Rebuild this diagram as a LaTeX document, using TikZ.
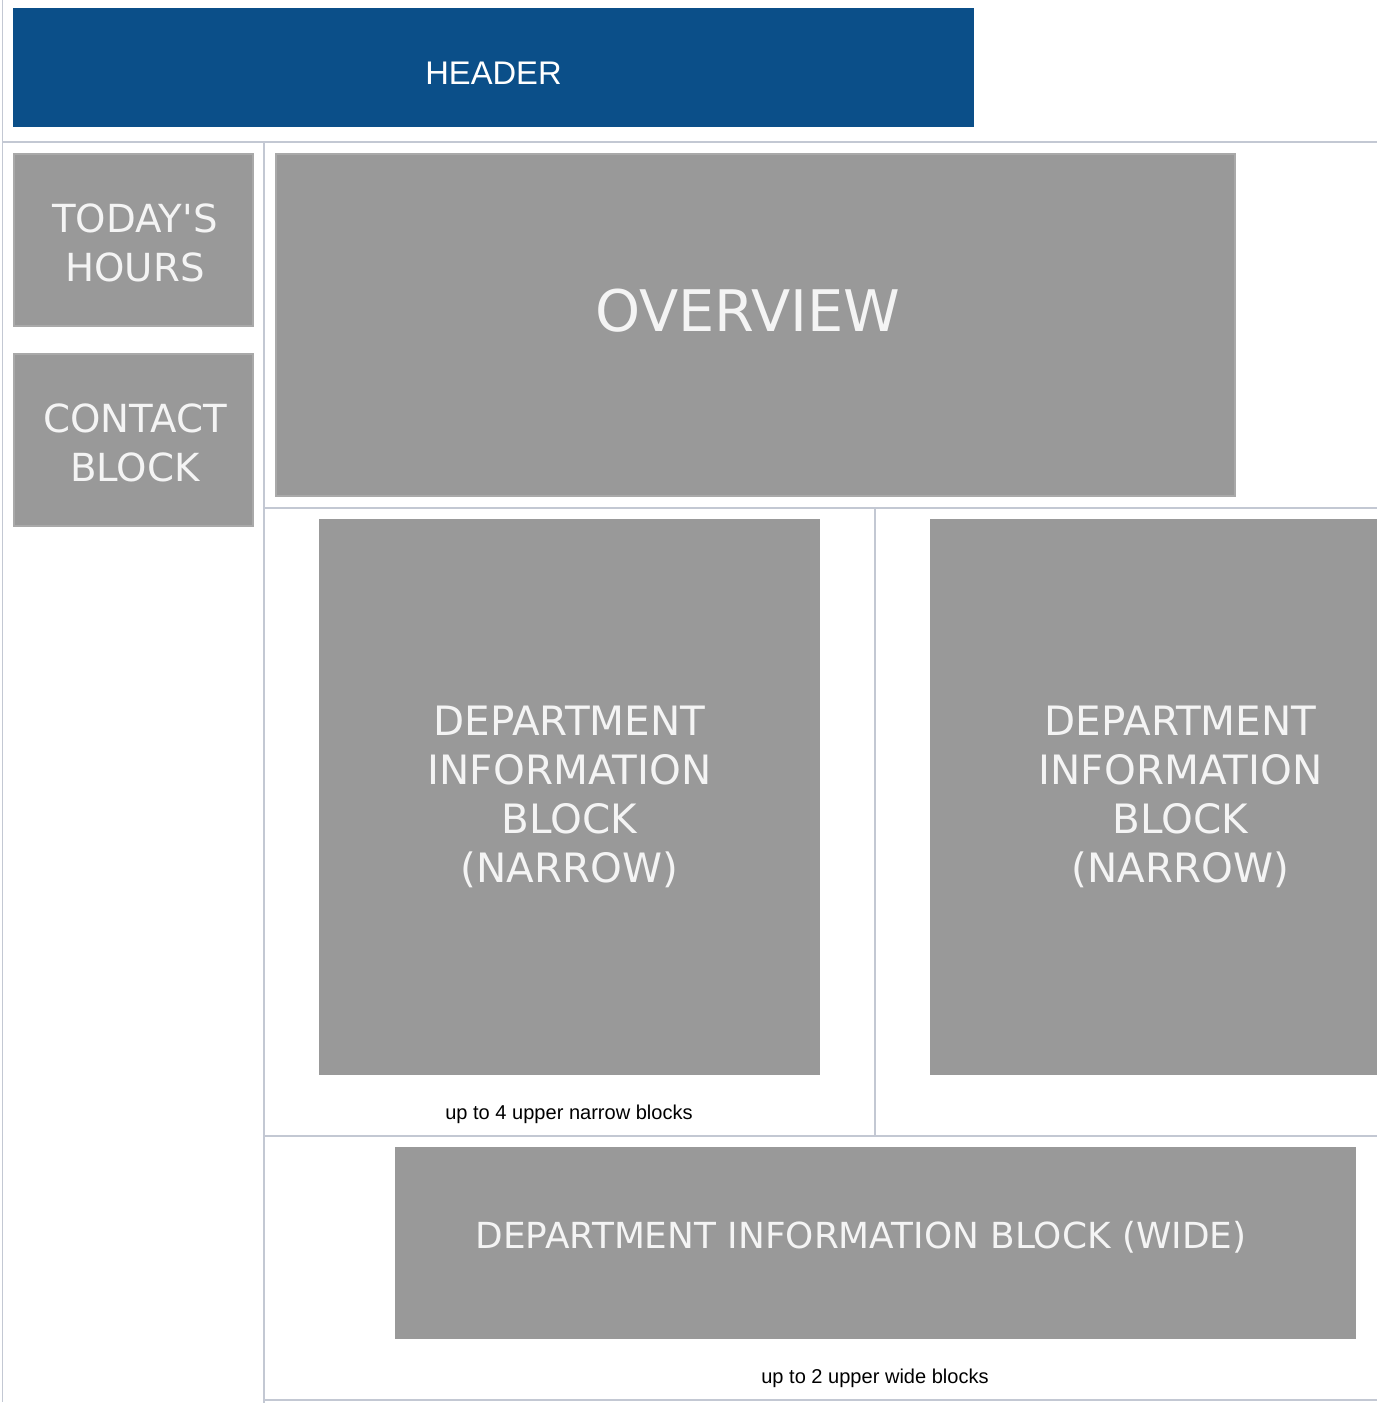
\documentclass[tikz,border=0pt]{standalone}
\usepackage{fontspec}
\usepackage{xcolor}
\usepackage{tikz}
\usetikzlibrary{positioning}
\newfontfamily\blockfont{DejaVu Sans}
\newfontfamily\notefont{Liberation Sans}
\definecolor{headblue}{HTML}{0B4F89}
\definecolor{blockgray}{HTML}{999999}
\definecolor{blockedge}{HTML}{A9A9A9}
\definecolor{rulegray}{HTML}{C3C8D3}
\definecolor{paletext}{HTML}{F4F4F4}
\tikzset{
    every picture/.style={line cap=butt,line join=miter},
    headbar/.style={fill=headblue,inner sep=0pt,minimum width=9.61cm,
      minimum height=1.19cm,text=white,text height=9.6pt,text depth=0pt,
      font=\notefont\fontsize{9.3}{11}\selectfont},
    sidebox/.style={fill=blockgray,draw=blockedge,line width=0.6pt,inner sep=0pt,
      minimum width=2.39cm,minimum height=1.72cm},
    sidetext/.style={text=paletext,inner sep=0pt,align=center,
      font=\blockfont\fontsize{11}{13.7}\selectfont},
    narrowbox/.style={fill=blockgray,inner sep=0pt,minimum width=5.01cm,
      minimum height=5.56cm,text=paletext,align=center,
      font=\blockfont\fontsize{11.5}{13.9}\selectfont},
    widebox/.style={fill=blockgray,inner sep=0pt,minimum width=9.61cm,
      minimum height=1.92cm},
    bigtext/.style={text=paletext,inner sep=0pt,font=\blockfont\fontsize{16.3}{20}\selectfont},
    widetext/.style={text=paletext,inner sep=0pt,font=\blockfont\fontsize{10.2}{12}\selectfont},
    notetext/.style={text=black,inner sep=0pt,font=\notefont\fontsize{5.7}{7}\selectfont},
    rule/.style={draw=rulegray,line width=0.6pt}
}
\begin{document}
\begin{tikzpicture}[x=0.01cm,y=-0.01cm]
  \useasboundingbox (0,0) rectangle (1377,1403);
  \clip (0,0) rectangle (1377,1403);

  % table rules
  \draw[rule,line width=0.35pt] (2.7,0) -- (2.7,1402);
  \draw[rule] (2.7,142.3) -- (1377,142.3);
  \draw[rule] (263.7,142.3) -- (263.7,1403);
  \draw[rule] (263.7,508) -- (1377,508);
  \draw[rule] (875,508) -- (875,1136);
  \draw[rule] (263.7,1136) -- (1377,1136);
  \draw[rule] (263.7,1400.3) -- (1377,1400.3);

  % header and left column
  \node[headbar] (header) at (493.5,67.5) {HEADER};
  \node[sidebox] (hours) at (133.5,240) {};
  \node[sidetext] (hourstext) at (135,243) {TODAY'S\\HOURS};
  \node[sidebox] (contact) at (133.5,440) {};
  \node[sidetext] (contacttext) at (135,443) {CONTACT\\BLOCK};

  % overview
  \node[sidebox,minimum width=9.59cm,minimum height=3.42cm] (overview) at (755.5,325) {};
  \node[bigtext] (overviewtext) at (748,311) {OVERVIEW};

  % narrow blocks
  \node[narrowbox] (narrowA) at (569.5,797) {DEPARTMENT\\INFORMATION\\BLOCK\\(NARROW)};
  \node[narrowbox] (narrowB) at (1180.5,797) {DEPARTMENT\\INFORMATION\\BLOCK\\(NARROW)};
  \node[notetext] (narrownote) at (569,1114) {up to 4 upper narrow blocks};

  % wide block
  \node[widebox] (wide) at (875.5,1243) {};
  \node[widetext] (widetext) at (861,1237) {DEPARTMENT INFORMATION BLOCK (WIDE)};
  \node[notetext] (widenote) at (875,1378) {up to 2 upper wide blocks};
\end{tikzpicture}
\end{document}
